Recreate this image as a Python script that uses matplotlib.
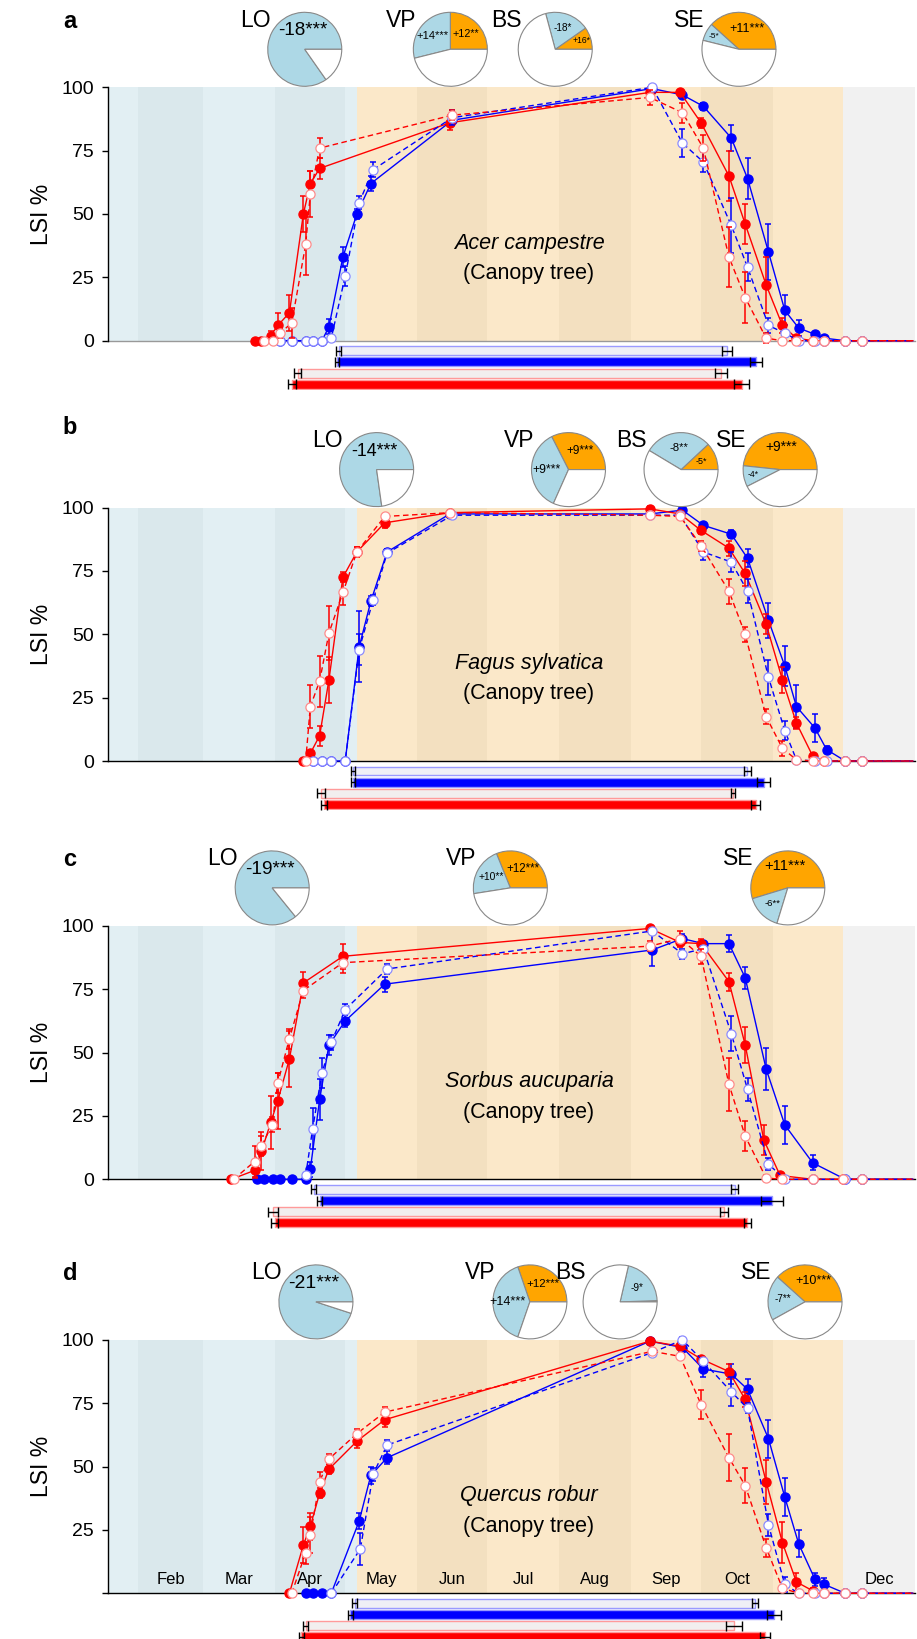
import numpy as np
import matplotlib
matplotlib.use("Agg")
import matplotlib.pyplot as plt

plt.rcParams['font.family'] = ['Liberation Sans', 'DejaVu Sans']

# ---------------- data (day of year, LSI %) ----------------
species = ['Acer campestre', 'Fagus sylvatica', 'Sorbus aucuparia', 'Quercus robur']
panel_letters = ['a', 'b', 'c', 'd']
month_names = ['Jan', 'Feb', 'Mar', 'Apr', 'May', 'Jun', 'Jul', 'Aug', 'Sep', 'Oct', 'Nov', 'Dec']
month_starts = [1, 32, 60, 91, 121, 152, 182, 213, 244, 274, 305, 335, 366]
month_labels_d = ['Feb', 'Mar', 'Apr', 'May', 'Jun', 'Jul', 'Aug', 'Sep', 'Oct', 'Dec']

# panel a
a_rf_x = [82, 85, 89, 92, 97, 103, 106, 110, 166, 252, 265, 274, 286, 293, 302, 309, 315, 322, 327, 336, 343, 365]
a_rf_y = [0, 0, 2, 6, 11, 50, 62, 68, 86, 98, 98, 86, 65, 46, 22, 6, 1, 0, 0, 0, 0, 0]
a_rf_e = [0, 0, 2, 5, 7, 7, 5, 4, 3, 2, 1, 2, 10, 8, 11, 3, 1, 0, 0, 0, 0, 0]
a_ro_x = [86, 90, 93, 98, 104, 106, 110, 167, 252, 266, 275, 286, 293, 302, 309, 315, 322, 327, 336, 343, 365]
a_ro_y = [0, 0, 3, 7, 38, 58, 76, 89, 96, 90, 76, 33, 17, 1, 0, 0, 0, 0, 0, 0, 0]
a_ro_e = [0, 0, 2, 6, 12, 9, 4, 2, 3, 4, 5, 12, 10, 2, 0, 0, 0, 0, 0, 0, 0]
a_bf_x = [93, 98, 104, 107, 111, 114, 120, 126, 132, 167, 253, 266, 275, 287, 294, 303, 310, 316, 323, 327, 336, 343, 365]
a_bf_y = [0, 0, 0, 0, 0, 5.5, 33, 50, 62, 87, 99.5, 97, 92.5, 80, 64, 35, 12, 5, 2.5, 1, 0, 0, 0]
a_bf_e = [0, 0, 0, 0, 0, 3, 4, 2, 3, 2, 1, 1, 1.5, 5, 8, 11, 6, 3, 1, 0, 0, 0, 0]
a_bo_x = [93, 98, 104, 107, 111, 115, 121, 127, 133, 167, 253, 266, 275, 287, 294, 303, 310, 316, 323, 327, 336, 343, 365]
a_bo_y = [0, 0, 0, 0, 0, 1, 25.5, 54.5, 67.5, 88, 100, 78, 70.5, 45.5, 29, 6, 3, 0, 0, 0, 0, 0, 0]
a_bo_e = [0, 0, 0, 0, 0, 1, 4, 2.5, 3, 3, 1, 5.5, 4, 11, 5.5, 3, 1, 0, 0, 0, 0, 0, 0]

# panel b
b_rf_x = [103, 106, 110, 114, 120, 126, 138, 166, 252, 265, 274, 286, 293, 302, 309, 315, 322, 327, 336, 343, 365]
b_rf_y = [0, 3, 10, 32, 72.5, 82.5, 94, 98, 99.5, 97.5, 91, 84, 74, 54, 32, 15, 2, 0, 0, 0, 0]
b_rf_e = [0, 1, 4, 9, 2, 2, 2, 1, 1, 1, 1.5, 3, 5, 4, 5, 2.5, 1, 0, 0, 0, 0]
b_ro_x = [104, 106, 110, 114, 120, 126, 138, 166, 252, 265, 274, 286, 293, 302, 309, 315, 322, 327, 336, 343, 365]
b_ro_y = [0, 21.5, 31.5, 50.5, 66.5, 82.5, 96.5, 98, 97, 96.5, 85, 67, 50, 17.5, 5, 0.5, 0, 0, 0, 0, 0]
b_ro_e = [0, 8.5, 10, 10.5, 5, 2, 1, 1, 1, 1, 2, 5, 3, 3, 3, 1, 0, 0, 0, 0, 0]
b_bf_x = [107, 111, 115, 121, 127, 132, 139, 166, 252, 266, 275, 287, 294, 303, 310, 315, 323, 328, 336, 343, 365]
b_bf_y = [0, 0, 0, 0, 45, 63, 82.5, 97.5, 97.5, 99, 93, 89.5, 80, 55.5, 37.5, 21.5, 13, 4.5, 0, 0, 0]
b_bf_e = [0, 0, 0, 0, 14, 2, 1, 1, 1, 1, 1, 1.5, 3.5, 7, 8, 8.5, 5.5, 1.5, 0, 0, 0]
b_bo_x = [107, 111, 115, 121, 127, 133, 139, 167, 252, 265, 275, 287, 294, 303, 310, 315, 323, 328, 336, 343, 365]
b_bo_y = [0, 0, 0, 0, 44, 63.5, 82, 97, 97, 97, 82.5, 78.5, 67, 33, 12, 0.5, 0, 0, 0, 0, 0]
b_bo_e = [0, 0, 0, 0, 6, 2, 1, 1, 1, 1, 3.3, 3.8, 4.7, 7, 3.6, 1, 0, 0, 0, 0, 0]

# panel c
c_rf_x = [72, 82, 85, 89, 92, 97, 103, 120, 252, 265, 274, 286, 293, 301, 308, 322, 335, 343, 365]
c_rf_y = [0, 3.5, 11, 22.5, 31, 47.5, 77.5, 88, 99, 93.5, 93, 78, 53, 15.5, 1.5, 0, 0, 0, 0]
c_rf_e = [0, 3, 7.5, 10.5, 11, 11, 4.5, 5, 1, 2, 2, 3.5, 7, 6, 1, 0, 0, 0, 0]
c_ro_x = [73, 82, 85, 89.5, 92, 97, 103, 120, 252, 265, 274, 286, 293, 302, 309, 322, 335, 343, 365]
c_ro_y = [0, 7, 13, 21.5, 38, 55.5, 74.5, 85.5, 92, 95, 88, 37.5, 17, 0.5, 0, 0, 0, 0, 0]
c_ro_e = [0, 6, 4, 3, 4, 4, 3, 4, 2, 3, 3, 10.5, 6, 1, 0, 0, 0, 0, 0]
c_bf_x = [83, 86, 90, 93, 98, 104, 106, 110, 114, 121, 138, 253, 266, 275, 286, 293, 302, 310, 322, 336, 343, 365]
c_bf_y = [0, 0, 0, 0, 0, 0, 4, 31.5, 53, 62.5, 77, 90.5, 95, 93, 93, 79.5, 43.5, 21.5, 6.5, 0, 0, 0]
c_bf_e = [0, 0, 0, 0, 0, 0, 3, 8, 4, 2.5, 3, 6.5, 2, 1, 3.3, 4.3, 8.3, 7.4, 3, 0, 0, 0]
c_bo_x = [104, 107, 111, 115, 121, 139, 253, 266, 275, 287, 294, 303, 310, 322, 336, 343, 365]
c_bo_y = [1.5, 20, 42, 54, 67, 83, 98, 89, 91, 57.5, 35.5, 6, 0, 0, 0, 0, 0]
c_bo_e = [1, 8, 6, 3, 2, 2, 1, 2, 1, 7, 4.6, 2.4, 0, 0, 0, 0, 0]

# panel d
d_rf_x = [97, 103, 106, 110, 114, 126, 138, 252, 265, 274, 286, 293, 302, 309, 315, 322, 327, 336, 343, 365]
d_rf_y = [0, 19, 26.5, 39.5, 49, 60, 68.5, 99.5, 97.5, 92.5, 87.5, 76.5, 44, 20, 4.5, 1, 0, 0, 0, 0]
d_rf_e = [0, 7, 5.3, 2, 2, 2.5, 3, 1, 1, 1, 3, 3, 8.7, 8.2, 3.7, 1, 0, 0, 0, 0]
d_ro_x = [98, 104, 106, 110, 114, 126, 138, 253, 265, 274, 286, 293, 302, 309, 316, 322, 327, 336, 343, 365]
d_ro_y = [0, 16, 23, 44, 53, 63, 71.5, 95.5, 93.5, 74.5, 53.5, 42.5, 18, 2, 0, 0, 0, 0, 0, 0]
d_ro_e = [0, 4.3, 7, 4, 2, 2, 2, 1, 1, 5.7, 9.3, 7, 3.6, 1, 0, 0, 0, 0, 0, 0]
d_bf_x = [104, 107, 111, 115, 127, 132, 139, 252, 266, 275, 287, 294, 303, 310, 316, 323, 327, 336, 343, 365]
d_bf_y = [0, 0, 0, 0, 28.5, 46.5, 53.5, 99.5, 97, 88.5, 86.5, 80.5, 61, 38, 19.5, 5.5, 3.5, 0, 0, 0]
d_bf_e = [0, 0, 0, 0, 3, 3.4, 2.5, 1, 1, 3, 4, 4, 7.5, 7.6, 5.3, 2.5, 2.4, 0, 0, 0]
d_bo_x = [115, 127.5, 133, 139, 253, 266, 275, 287, 294, 303, 310, 316, 323, 327, 336, 343, 365]
d_bo_y = [0, 17.5, 47, 58.5, 95, 100, 91.5, 79.5, 73, 27, 3.5, 0, 0, 0, 0, 0, 0]
d_bo_e = [0, 6.3, 2.5, 2, 1, 1, 1, 5.7, 2, 4.4, 2.8, 0, 0, 0, 0, 0, 0]

# season bars: order blue open, blue filled, red open, red filled
a_bar_start = [118.2, 117.5, 100.6, 98.2]
a_bar_end = [285.1, 297.6, 282.5, 291.4]
a_bar_start_err = [1.0, 1.0, 1.5, 1.8]
a_bar_end_err = [2.0, 2.6, 2.6, 3.2]
b_bar_start = [124.3, 124.3, 110.7, 111.8]
b_bar_end = [293.8, 301.0, 287.8, 297.5]
b_bar_start_err = [1.0, 0.8, 1.8, 1.3]
b_bar_end_err = [1.5, 2.8, 1.0, 2.0]
c_bar_start = [107.4, 110.0, 90.0, 90.7]
c_bar_end = [288.4, 304.6, 283.8, 293.8]
c_bar_start_err = [1.0, 1.0, 2.0, 1.5]
c_bar_end_err = [1.7, 4.7, 1.8, 1.5]
d_bar_start = [125.0, 123.2, 104.0, 102.2]
d_bar_end = [297.1, 305.3, 288.2, 301.4]
d_bar_start_err = [1.0, 1.0, 1.0, 1.0]
d_bar_end_err = [1.3, 2.9, 3.4, 2.1]

# pies: name, orange share (deg), light blue share (deg), labels
a_pie_names = ['LO', 'VP', 'BS', 'SE']
a_pie_doy = [103.6, 166.2, 211.3, 290.3]
a_pie_orange = [0, 90, 35, 138]
a_pie_blue = [305, 104, 70, 28]
a_pie_otext = ['', '+12**', '+16*', '+11***']
a_pie_btext = ['-18***', '+14***', '-18*', '-5*']
b_pie_names = ['LO', 'VP', 'BS', 'SE']
b_pie_doy = [134.5, 217.0, 265.4, 308.0]
b_pie_orange = [0, 117, 43, 174]
b_pie_blue = [278, 129, 106, 33]
b_pie_otext = ['', '+9***', '-5*', '+9***']
b_pie_btext = ['-14***', '+9***', '-8**', '-4*']
c_pie_names = ['LO', 'VP', 'SE']
c_pie_doy = [89.6, 192.0, 311.3]
c_pie_orange = [0, 112, 197]
c_pie_blue = [309, 77, 56]
c_pie_otext = ['', '+12***', '+11***']
c_pie_btext = ['-19***', '+10**', '-6**']
d_pie_names = ['LO', 'VP', 'BS', 'SE']
d_pie_doy = [108.4, 200.4, 239.2, 318.7]
d_pie_orange = [0, 109, 2, 138]
d_pie_blue = [342, 142, 75, 71]
d_pie_otext = ['', '+12***', '', '+10***']
d_pie_btext = ['-21***', '+14***', '-9*', '-7**']

# ---------------- layout ----------------
W, H = 917, 1639
fig = plt.figure(figsize=(W / 100, H / 100), dpi=100)

XMIN, XMAX = 19, 366
LEFT, RIGHT = 108, 915
AX_H = 253.4
zero_px = [340.7, 761, 1179.3, 1593.3]
letter_px = [21, 427, 859, 1273]
PIE_R = 37


def px_x(d):
    return LEFT + (d - XMIN) * (RIGHT - LEFT) / (XMAX - XMIN)


blue_light, blue_dark = '#e2eff3', '#dae8ec'
or_light, or_dark = '#fbe8c9', '#f3e0c0'
grey_bg = '#f1f1f1'

panels = [
    (a_rf_x, a_rf_y, a_rf_e, a_ro_x, a_ro_y, a_ro_e, a_bf_x, a_bf_y, a_bf_e, a_bo_x, a_bo_y, a_bo_e,
     a_bar_start, a_bar_end, a_bar_start_err, a_bar_end_err,
     a_pie_names, a_pie_doy, a_pie_orange, a_pie_blue, a_pie_otext, a_pie_btext),
    (b_rf_x, b_rf_y, b_rf_e, b_ro_x, b_ro_y, b_ro_e, b_bf_x, b_bf_y, b_bf_e, b_bo_x, b_bo_y, b_bo_e,
     b_bar_start, b_bar_end, b_bar_start_err, b_bar_end_err,
     b_pie_names, b_pie_doy, b_pie_orange, b_pie_blue, b_pie_otext, b_pie_btext),
    (c_rf_x, c_rf_y, c_rf_e, c_ro_x, c_ro_y, c_ro_e, c_bf_x, c_bf_y, c_bf_e, c_bo_x, c_bo_y, c_bo_e,
     c_bar_start, c_bar_end, c_bar_start_err, c_bar_end_err,
     c_pie_names, c_pie_doy, c_pie_orange, c_pie_blue, c_pie_otext, c_pie_btext),
    (d_rf_x, d_rf_y, d_rf_e, d_ro_x, d_ro_y, d_ro_e, d_bf_x, d_bf_y, d_bf_e, d_bo_x, d_bo_y, d_bo_e,
     d_bar_start, d_bar_end, d_bar_start_err, d_bar_end_err,
     d_pie_names, d_pie_doy, d_pie_orange, d_pie_blue, d_pie_otext, d_pie_btext),
]


def draw_series(ax, x, y, e, color, light, ls, filled, z):
    ax.plot(x, y, color=color, ls=ls, lw=1, zorder=z, clip_on=False)
    keep = [i for i in range(len(x)) if e[i] > 0]
    eb = ax.errorbar([x[i] for i in keep], [y[i] for i in keep], yerr=[e[i] for i in keep],
                     fmt='none', ecolor=color, elinewidth=1.1, capsize=2, capthick=1.1, zorder=z + 0.2)
    for art in eb.get_children():
        art.set_clip_on(False)
    ax.plot(x[:-1], y[:-1], 'o', ms=6.6, mfc=color if filled else 'white',
            mec=light if not filled else color, mew=0.9, zorder=z + 0.5, clip_on=False)


for p, data in enumerate(panels):
    (rf_x, rf_y, rf_e, ro_x, ro_y, ro_e, bf_x, bf_y, bf_e, bo_x, bo_y, bo_e,
     bar_s, bar_e, bar_se, bar_ee, pnames, pdoy, porange, pblue, potext, pbtext) = data
    y0 = zero_px[p]
    ax = fig.add_axes([LEFT / W, 1 - y0 / H, (RIGHT - LEFT) / W, AX_H / H])
    ax.set_xlim(XMIN, XMAX)
    ax.set_ylim(0, 100)

    # season / month background
    ax.axvspan(XMIN, 126, color=blue_light, lw=0, zorder=0)
    ax.axvspan(126, 335, color=or_light, lw=0, zorder=0)
    ax.axvspan(335, XMAX, color=grey_bg, lw=0, zorder=0)
    for m in [1, 3]:
        ax.axvspan(month_starts[m], month_starts[m + 1], color=blue_dark, lw=0, zorder=0.1)
    for m in [5, 7, 9]:
        ax.axvspan(month_starts[m], month_starts[m + 1], color=or_dark, lw=0, zorder=0.1)

    draw_series(ax, bf_x, bf_y, bf_e, 'blue', '#8c8cff', '-', True, 3)
    draw_series(ax, rf_x, rf_y, rf_e, 'red', '#ff8c8c', '-', True, 4)
    draw_series(ax, bo_x, bo_y, bo_e, 'blue', '#8c8cff', (0, (4, 2.5)), False, 5)
    draw_series(ax, ro_x, ro_y, ro_e, 'red', '#ff8c8c', (0, (4, 2.5)), False, 6)

    ax.text(200, 38.5, species[p], style='italic', fontsize=15.5, ha='center', va='center', zorder=8)
    ax.text(200, 26.5, '(Canopy tree)', fontsize=15.5, ha='center', va='center', zorder=8)

    for s in ['top', 'right']:
        ax.spines[s].set_visible(False)
    ax.spines['left'].set_linewidth(1)
    ax.spines['bottom'].set_linewidth(1)
    ax.spines['bottom'].set_color('#999999' if p == 0 else 'black')
    ax.spines['bottom'].set_zorder(2)
    ax.set_xticks([])
    ax.set_yticks([0, 25, 50, 75, 100])
    if p == 3:
        ax.set_yticklabels(['', '25', '50', '75', '100'])
        for m, name in enumerate(month_names):
            if name in month_labels_d:
                ax.text((month_starts[m] + month_starts[m + 1]) / 2, 5.5, name, fontsize=12,
                        ha='center', va='center', zorder=1)
    ax.tick_params(axis='y', labelsize=14, length=4, width=1, pad=6)
    fig.text(42 / W, 1 - (y0 - AX_H / 2) / H, 'LSI %', rotation=90, fontsize=16.5,
             ha='center', va='center')
    fig.text(70 / W, 1 - letter_px[p] / H, panel_letters[p], fontsize=17, fontweight='bold',
             ha='center', va='center')

    # season length bars
    bax = fig.add_axes([LEFT / W, 1 - (y0 + 49.2) / H, (RIGHT - LEFT) / W, 44.8 / H])
    bax.set_xlim(XMIN, XMAX)
    bax.set_ylim(3.5, -0.5)
    bax.axis('off')
    faces = ['#efeff6', 'blue', '#f2eeee', 'red']
    edges = ['#9a9aff', '#9a9aff', '#ff9a9a', '#ff9a9a']
    for i in range(4):
        bax.barh(i, bar_e[i] - bar_s[i], left=bar_s[i], height=0.8, color=faces[i],
                 edgecolor=edges[i], lw=1)
        bax.errorbar([bar_s[i], bar_e[i]], [i, i], xerr=[bar_se[i], bar_ee[i]], fmt='none',
                     ecolor='black', elinewidth=1, capsize=3.5, capthick=1)

    # pies
    top = y0 - AX_H
    cy = top - 38
    for k in range(len(pnames)):
        cx = px_x(pdoy[k])
        r = PIE_R * 1.03
        pax = fig.add_axes([(cx - r) / W, 1 - (cy + r) / H, 2 * r / W, 2 * r / H])
        vals, cols = [], []
        if porange[k] > 0:
            vals.append(porange[k]); cols.append('orange')
        vals.append(pblue[k]); cols.append('lightblue')
        vals.append(360 - porange[k] - pblue[k]); cols.append('white')
        pax.pie(vals, colors=cols, startangle=0, counterclock=True,
                wedgeprops=dict(edgecolor='#888888', linewidth=0.8))
        pax.set_xlim(-1.03, 1.03)
        pax.set_ylim(-1.03, 1.03)
        pax.set_aspect('equal')
        # wedge labels
        for txt, a0, span in [(potext[k], 0, porange[k]), (pbtext[k], porange[k], pblue[k])]:
            if not txt:
                continue
            if porange[k] == 0 and span > 180:
                tx, ty = -0.05, 0.5
            else:
                mid = np.deg2rad(a0 + span / 2)
                rr = 0.6 if span >= 40 else 0.75
                tx, ty = rr * np.cos(mid), rr * np.sin(mid)
            pax.text(tx, ty, txt, ha='center', va='center',
                     fontsize=min(14, 5.3 + 0.027 * span))
        fig.text((cx - PIE_R + 3) / W, 1 - (cy - 29) / H, pnames[k], fontsize=16.5,
                 ha='right', va='center')

fig.savefig('out.png', dpi=100)
